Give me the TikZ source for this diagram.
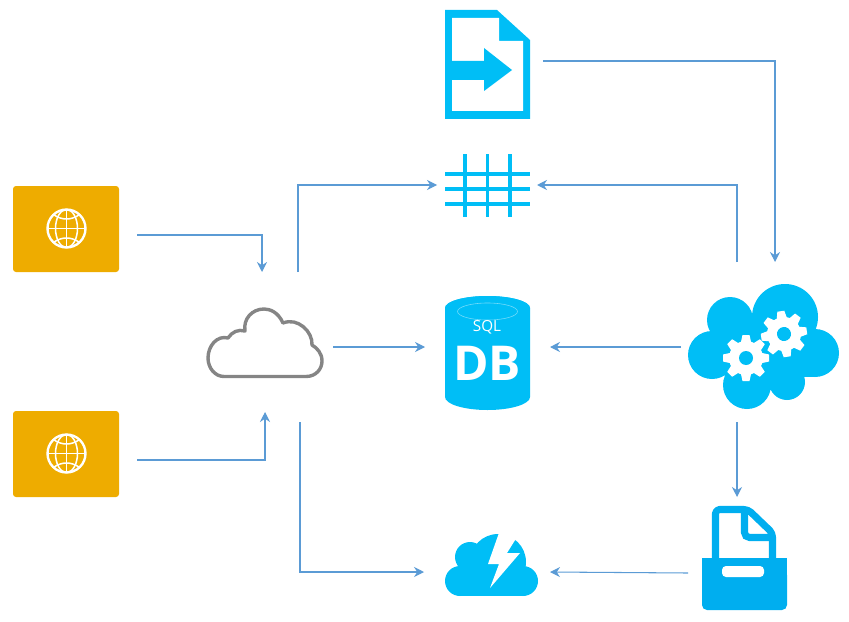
\documentclass[tikz,border=0pt]{standalone}
\usepackage{fontspec}
\setmainfont{Open Sans}
\usetikzlibrary{arrows.meta, calc}
\definecolor{iconblue}{HTML}{00BEF6}
\definecolor{trayblue}{HTML}{00AEEF}
\definecolor{webamber}{HTML}{EEAC00}
\definecolor{linkblue}{HTML}{5B9BD5}
\definecolor{cloudgray}{HTML}{858585}
\def\px{0.03cm}
\tikzset{
  hitbox/.style={inner sep=0pt, outer sep=0pt},
  link/.style={linkblue, line width=0.9pt, -{Stealth[length=8.5pt,width=8.5pt]}},
  gearwheel/.pic={
    \fill[white] (0,0) circle (17);
    \foreach \a in {0,45,...,315}
      \fill[white, rotate=\a] (-3.5,-23) -- (3.5,-23) -- (5.5,-14) -- (-5.5,-14) -- cycle;
    \fill[iconblue] (0,0) circle (7);
  },
  globe/.pic={
    \draw[white, line width=2pt] (0,0) circle (19);
    \draw[white, line width=1.3pt] (0,0) ellipse (11 and 19);
    \draw[white, line width=1.3pt] (0,-19) -- (0,19) (-19,0) -- (19,0);
    \draw[white, line width=1.3pt] (-13,-14) .. controls (-5,-8) and (5,-8) .. (13,-14);
    \draw[white, line width=1.3pt] (-13,14) .. controls (-5,8) and (5,8) .. (13,14);
  },
}
\begin{document}
\begin{tikzpicture}[x=\px, y=-\px]
    \useasboundingbox (0,0) rectangle (849,621);

    % --- Anchors round the icons ---
    \node[hitbox, minimum width=142*\px, minimum height=98*\px] (web1) at (66,235) {};
    \node[hitbox, minimum width=142*\px, minimum height=98*\px] (web2) at (66,460) {};
    \node[hitbox, minimum width=136*\px, minimum height=150*\px] (cloud) at (265,347) {};
    \node[hitbox, minimum width=112*\px, minimum height=110*\px] (doc) at (487,61) {};
    \node[hitbox, minimum width=100*\px, minimum height=66*\px] (grid) at (487,185) {};
    \node[hitbox, minimum width=125*\px, minimum height=116*\px] (db) at (487.5,347) {};
    \node[hitbox, minimum width=126*\px, minimum height=70*\px] (storm) at (487,572) {};
    \node[hitbox, minimum width=112*\px, minimum height=160*\px] (proc) at (737,342) {};
    \node[hitbox, minimum width=98*\px, minimum height=152*\px] (tray) at (737,573) {};

    % --- Web boxes ---
    \fill[webamber, rounded corners=3*\px] (13,186) rectangle (119,272);
    \fill[webamber, rounded corners=3*\px] (13,411) rectangle (119,497);
    \pic at (66.5,228.5) {globe};
    \pic at (66.5,453.5) {globe};

    % --- Grey cloud ---
    \draw[cloudgray, line width=2.9pt, line join=round]
        (224,376.5) -- (306,376.5)
        .. controls (316,376.5) and (322,369) .. (322,361)
        .. controls (322,353) and (317,348) .. (312,345)
        .. controls (313,332) and (298,317) .. (283,323)
        .. controls (278,312) and (270,309) .. (264,309)
        .. controls (252,309) and (243,319) .. (245,331)
        .. controls (238,329) and (232,332) .. (228,338)
        .. controls (217,335) and (208,346) .. (208,358)
        .. controls (208,368) and (215,376.5) .. (224,376.5) -- cycle;

    % --- Document with arrow ---
    \fill[iconblue] (445,10) -- (497,10) -- (530,40) -- (530,119) -- (445,119) -- cycle;
    \fill[white] (452,18) -- (499,18) -- (499,41) -- (523,41) -- (523,111) -- (452,111) -- cycle;
    \fill[iconblue] (445,61) -- (484,61) -- (484,48) -- (512,70) -- (484,91) -- (484,80) -- (445,80) -- cycle;

    % --- Grid ---
    \foreach \y in {174,189,204}
      \fill[iconblue] (445,\y-2) rectangle (530,\y+2);
    \fill[iconblue] (463,154) rectangle (467,217);
    \fill[iconblue] (486,154) rectangle (489,217);
    \fill[iconblue] (508,154) rectangle (512,217);

    % --- Database ---
    \fill[iconblue] (445,308) arc[x radius=42.5, y radius=12, start angle=180, end angle=360]
        -- (530,397) arc[x radius=42.5, y radius=13, start angle=0, end angle=180] -- cycle;
    \fill[iconblue] (487.5,308) ellipse (42.5 and 12);
    \draw[white, opacity=0.45, line width=0.5pt] (487.5,311.5) ellipse (30 and 8.5);
    \node[text=white, font=\fontsize{13}{13}\selectfont, hitbox] (sql) at (487,327) {SQL};
    \node[text=white, font=\fontsize{41}{41}\selectfont\bfseries, hitbox] (dbname) at (487,363) {DB};

    % --- Process cloud ---
    \fill[iconblue] (785,317) circle (33) (730,320) circle (23) (712,355) circle (24)
        (815,353) circle (24) (747,385) circle (24) (787,382) circle (18);
    \fill[iconblue] (725,325) rectangle (800,380);
    \fill[iconblue] (795,345) rectangle (815,377);
    \pic at (746,358) {gearwheel};
    \pic[rotate=8] at (784,334) {gearwheel};

    % --- Tray with sheet ---
    \draw[trayblue, line width=6pt, line join=round, rounded corners=4*\px]
        (715.5,560) -- (715.5,509.5) -- (748,509.5) -- (772.5,533) -- (772.5,560);
    \draw[trayblue, line width=6pt, rounded corners=5*\px] (744.5,510) -- (744.5,537.5) -- (772,537.5);
    \fill[trayblue, rounded corners=5*\px] (702,570) -- (702,610) -- (787,610) -- (787,570) -- cycle;
    \fill[trayblue] (702,558) rectangle (787,575);
    \fill[white, rounded corners=4*\px] (722,566) rectangle (764,577);

    % --- Storm cloud ---
    \fill[iconblue] (460,581) circle (15) (470,557) circle (15) (498,562) circle (28) (523,581) circle (15);
    \fill[iconblue] (460,570) rectangle (523,596);
    \fill[white] (500,530) -- (488,564) -- (499,564) -- (490,588) -- (520,553) -- (507,553) -- (517,537) -- (517,530) -- cycle;

    % --- Connectors ---
    \draw[link] (web1.east) -| ($(cloud.north)+(-3,0)$);
    \draw[link] (web2.east) -| ($(cloud.south)+(0,-10)$);
    \draw[link] ($(cloud.north)+(33,0)$) |- (grid.west);
    \draw[link] (cloud.east) -- (db.west);
    \draw[link] ($(cloud.south)+(35,0)$) |- (storm.west);
    \draw[link] (doc.east) -| ($(proc.north)+(38,0)$);
    \draw[link] (proc.north) |- (grid.east);
    \draw[link] ($(proc.west)+(0,5)$) -- (db.east);
    \draw[link] (proc.south) -- (tray.north);
    \draw[link] (tray.west) -- (storm.east);

\end{tikzpicture}
\end{document}
